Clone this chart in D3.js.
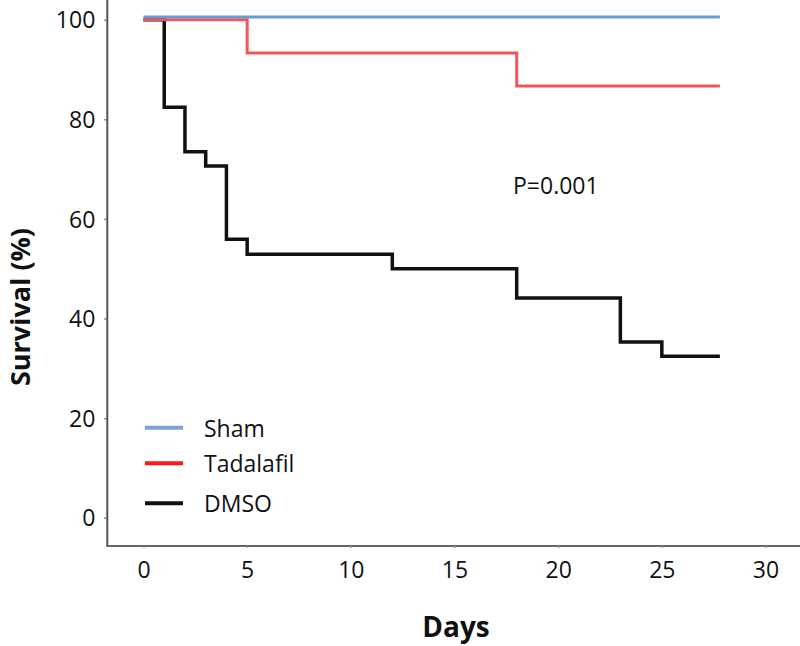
<!DOCTYPE html>
<html><head><meta charset="utf-8">
<script src="https://cdn.jsdelivr.net/npm/d3@7"></script>
<style>body{margin:0;background:#fff}svg{display:block}</style>
</head><body>
<svg id="c" width="800" height="646"></svg>
<script>
// Data (Kaplan–Meier step curves): change-point days and survival (%)
const seriesNames = ["Sham", "Tadalafil", "DMSO"];
const shamDays = [0, 27.8];
const shamSurv = [100, 100];
const tadaDays = [0, 5, 18, 27.8];
const tadaSurv = [100, 93.3, 86.7, 86.7];
const dmsoDays = [0, 1, 2, 3, 4, 5, 12, 18, 23, 25, 27.8];
const dmsoSurv = [100, 82.4, 73.5, 70.6, 55.9, 52.9, 50, 44.1, 35.3, 32.4, 32.4];
const xTicks = [0, 5, 10, 15, 20, 25, 30];
const yTicks = [0, 20, 40, 60, 80, 100];
const pLabel = "P=0.001";

const svg = d3.select("#c");
const x = d3.scaleLinear().domain([0, 30]).range([143.5, 765.5]);
const y = d3.scaleLinear().domain([0, 100]).range([517.7, 19.7]);
const font = "'Open Sans', 'Noto Sans', sans-serif";

// axes lines
svg.append("line").attr("x1", 107.3).attr("x2", 107.3).attr("y1", 0).attr("y2", 546.5)
  .attr("stroke", "#555").attr("stroke-width", 2);
svg.append("line").attr("x1", 106.3).attr("x2", 800).attr("y1", 546).attr("y2", 546)
  .attr("stroke", "#666").attr("stroke-width", 2);

const yAxis = d3.axisLeft(y).tickValues(yTicks).tickSize(3).tickPadding(9);
const gy = svg.append("g").attr("transform", "translate(107.3,0)").call(yAxis);
gy.select(".domain").remove();
gy.selectAll("line").attr("stroke", "#777").attr("stroke-width", 1.5);
gy.selectAll("text").attr("font-family", font).attr("font-size", 23).attr("fill", "#111")
  .attr("dy", "0.36em");

const xAxis = d3.axisBottom(x).tickValues(xTicks).tickSize(2).tickPadding(14);
const gx = svg.append("g").attr("transform", "translate(0,546)").call(xAxis);
gx.select(".domain").remove();
gx.selectAll("line").attr("stroke", "#999").attr("stroke-width", 1.5);
gx.selectAll("text").attr("font-family", font).attr("font-size", 23).attr("fill", "#111");

// step curves
const line = d3.line().x(d => x(d[0])).y(d => y(d[1])).curve(d3.curveStepAfter);
const zip = (a, b) => a.map((v, i) => [v, b[i]]);

svg.append("path").datum(zip(dmsoDays, dmsoSurv)).attr("d", line)
  .attr("fill", "none").attr("stroke", "#111").attr("stroke-width", 3.5);
svg.append("path").datum(zip(tadaDays, tadaSurv)).attr("d", line)
  .attr("fill", "none").attr("stroke", "#f2555a").attr("stroke-width", 3);
svg.append("path").datum(zip(shamDays, shamSurv)).attr("d", line)
  .attr("transform", "translate(0,-2.6)")
  .attr("fill", "none").attr("stroke", "#6b9bd2").attr("stroke-width", 3);

// legend
const legColors = ["#7aa3d6", "#ff1a1a", "#111"];
const legY = [427.7, 463.3, 503.3];
seriesNames.forEach((n, i) => {
  svg.append("line").attr("x1", 145).attr("x2", 183).attr("y1", legY[i]).attr("y2", legY[i])
    .attr("stroke", legColors[i]).attr("stroke-width", 4);
  svg.append("text").attr("x", 204).attr("y", legY[i] + 9).attr("font-family", font)
    .attr("font-size", 23).attr("fill", "#111").text(n);
});

// p-value
svg.append("text").attr("x", 513).attr("y", 193.5).attr("font-family", font)
  .attr("font-size", 23).attr("fill", "#111").text(pLabel);

// axis titles
svg.append("text").attr("x", 456).attr("y", 637).attr("text-anchor", "middle")
  .attr("font-family", font).attr("font-weight", "bold").attr("font-size", 28)
  .attr("fill", "#111").text("Days");
svg.append("text").attr("transform", "translate(30,307) rotate(-90)").attr("text-anchor", "middle")
  .attr("font-family", font).attr("font-weight", "bold").attr("font-size", 27)
  .attr("fill", "#111").text("Survival (%)");
</script>
</body></html>
